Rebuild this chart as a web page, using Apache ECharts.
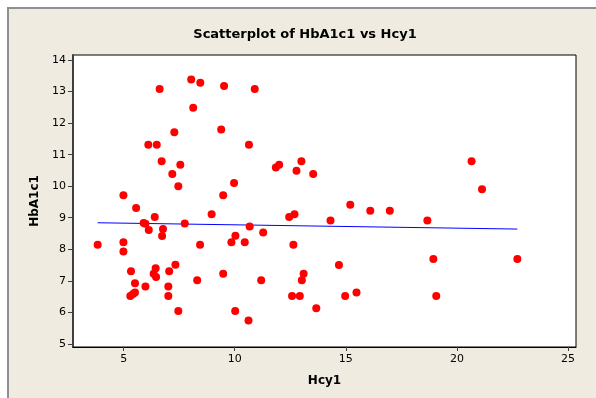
<!DOCTYPE html>
<html>
<head>
<meta charset="utf-8">
<script src="https://cdn.jsdelivr.net/npm/echarts@6/dist/echarts.min.js"></script>
<style>
html,body{margin:0;padding:0;background:#fff;width:596px;height:398px;overflow:hidden;}
#frame{position:absolute;left:7px;top:7px;width:600px;height:400px;background:#efebe1;border-left:2px solid #8f8f8f;border-top:2px solid #8f8f8f;}
#chart{position:absolute;left:0;top:0;width:596px;height:398px;}
</style>
</head>
<body>
<div id="frame"></div>
<div id="chart"></div>
<script>
const titleText = 'Scatterplot of HbA1c1 vs Hcy1';
const xName = 'Hcy1';
const yName = 'HbA1c1';
const hcy1 = [8.04,8.45,9.52,6.62,10.9,8.13,7.28,9.39,6.11,6.49,10.64,6.71,7.55,7.19,7.46,9.97,4.99,9.48,5.56,8.96,6.40,5.90,5.98,7.75,10.67,6.13,6.77,6.73,10.03,9.85,10.45,4.99,3.83,8.44,4.99,5.33,7.33,6.44,7.05,6.35,6.46,9.48,5.51,5.98,7.01,8.31,5.30,5.42,5.51,7.01,7.46,10.02,10.62,13.0,11.85,12.0,12.78,13.53,15.2,16.1,16.98,12.45,12.69,14.31,11.28,12.64,14.69,13.1,13.02,11.19,12.58,12.93,14.97,15.48,13.67,20.66,21.13,18.67,18.94,22.72,19.07];
const hba1c1 = [13.38,13.28,13.18,13.08,13.08,12.49,11.71,11.80,11.31,11.31,11.31,10.79,10.68,10.39,10.0,10.10,9.71,9.71,9.31,9.11,9.02,8.83,8.81,8.82,8.72,8.61,8.64,8.42,8.43,8.22,8.22,8.22,8.14,8.14,7.93,7.30,7.51,7.40,7.30,7.22,7.12,7.22,6.92,6.82,6.82,7.02,6.52,6.58,6.63,6.52,6.04,6.04,5.74,10.79,10.59,10.68,10.49,10.39,9.41,9.22,9.22,9.02,9.11,8.91,8.53,8.14,7.50,7.22,7.02,7.02,6.52,6.52,6.52,6.63,6.13,10.79,9.90,8.91,7.69,7.69,6.52];
const fitX = [3.83, 22.72];
const fitY = [8.84, 8.64];

const pts = hcy1.map((v, i) => [v, hba1c1[i]]);
const fitLine = fitX.map((v, i) => [v, fitY[i]]);
const font = 'Tahoma, "DejaVu Sans", sans-serif';

const chart = echarts.init(document.getElementById('chart'), null, {renderer: 'canvas'});
chart.setOption({
  animation: false,
  backgroundColor: 'transparent',
  graphic: [
    {type: 'text', x: 305, y: 28, style: {text: titleText, font: 'bold 13px ' + font, fill: '#000', align: 'center', verticalAlign: 'top'}}
  ],
  grid: {left: 73, top: 55, right: 20, bottom: 51, show: true, backgroundColor: '#fff', borderColor: '#000', borderWidth: 1},
  xAxis: {
    type: 'value', min: 2.72, max: 25.36, minInterval: 5, maxInterval: 5,
    name: xName, nameLocation: 'middle', nameGap: 28,
    nameTextStyle: {fontFamily: font, fontWeight: 'bold', fontSize: 12, color: '#000'},
    axisLine: {show: true, lineStyle: {color: '#000', width: 1}},
    axisTick: {show: true, length: 4, lineStyle: {color: '#404040'}},
    axisLabel: {fontFamily: font, fontSize: 11, color: '#000', margin: 7, showMinLabel: false, showMaxLabel: false},
    splitLine: {show: false}
  },
  yAxis: {
    type: 'value', min: 4.9, max: 14.16, minInterval: 1, maxInterval: 1,
    name: yName, nameLocation: 'middle', nameGap: 31, nameRotate: 90,
    nameTextStyle: {fontFamily: font, fontWeight: 'bold', fontSize: 12, color: '#000'},
    axisLine: {show: true, lineStyle: {color: '#404040', width: 2}},
    axisTick: {show: true, length: 5, lineStyle: {color: '#404040'}},
    axisLabel: {fontFamily: font, fontSize: 11, color: '#000', margin: 7, showMinLabel: false, showMaxLabel: false},
    splitLine: {show: false}
  },
  series: [
    {type: 'scatter', data: pts, symbol: 'circle', symbolSize: 8, itemStyle: {color: '#ff0000', opacity: 1}, z: 3},
    {type: 'line', data: fitLine, showSymbol: false, symbol: 'none', lineStyle: {color: '#0000ff', width: 1}, z: 2}
  ]
});
</script>
</body>
</html>
